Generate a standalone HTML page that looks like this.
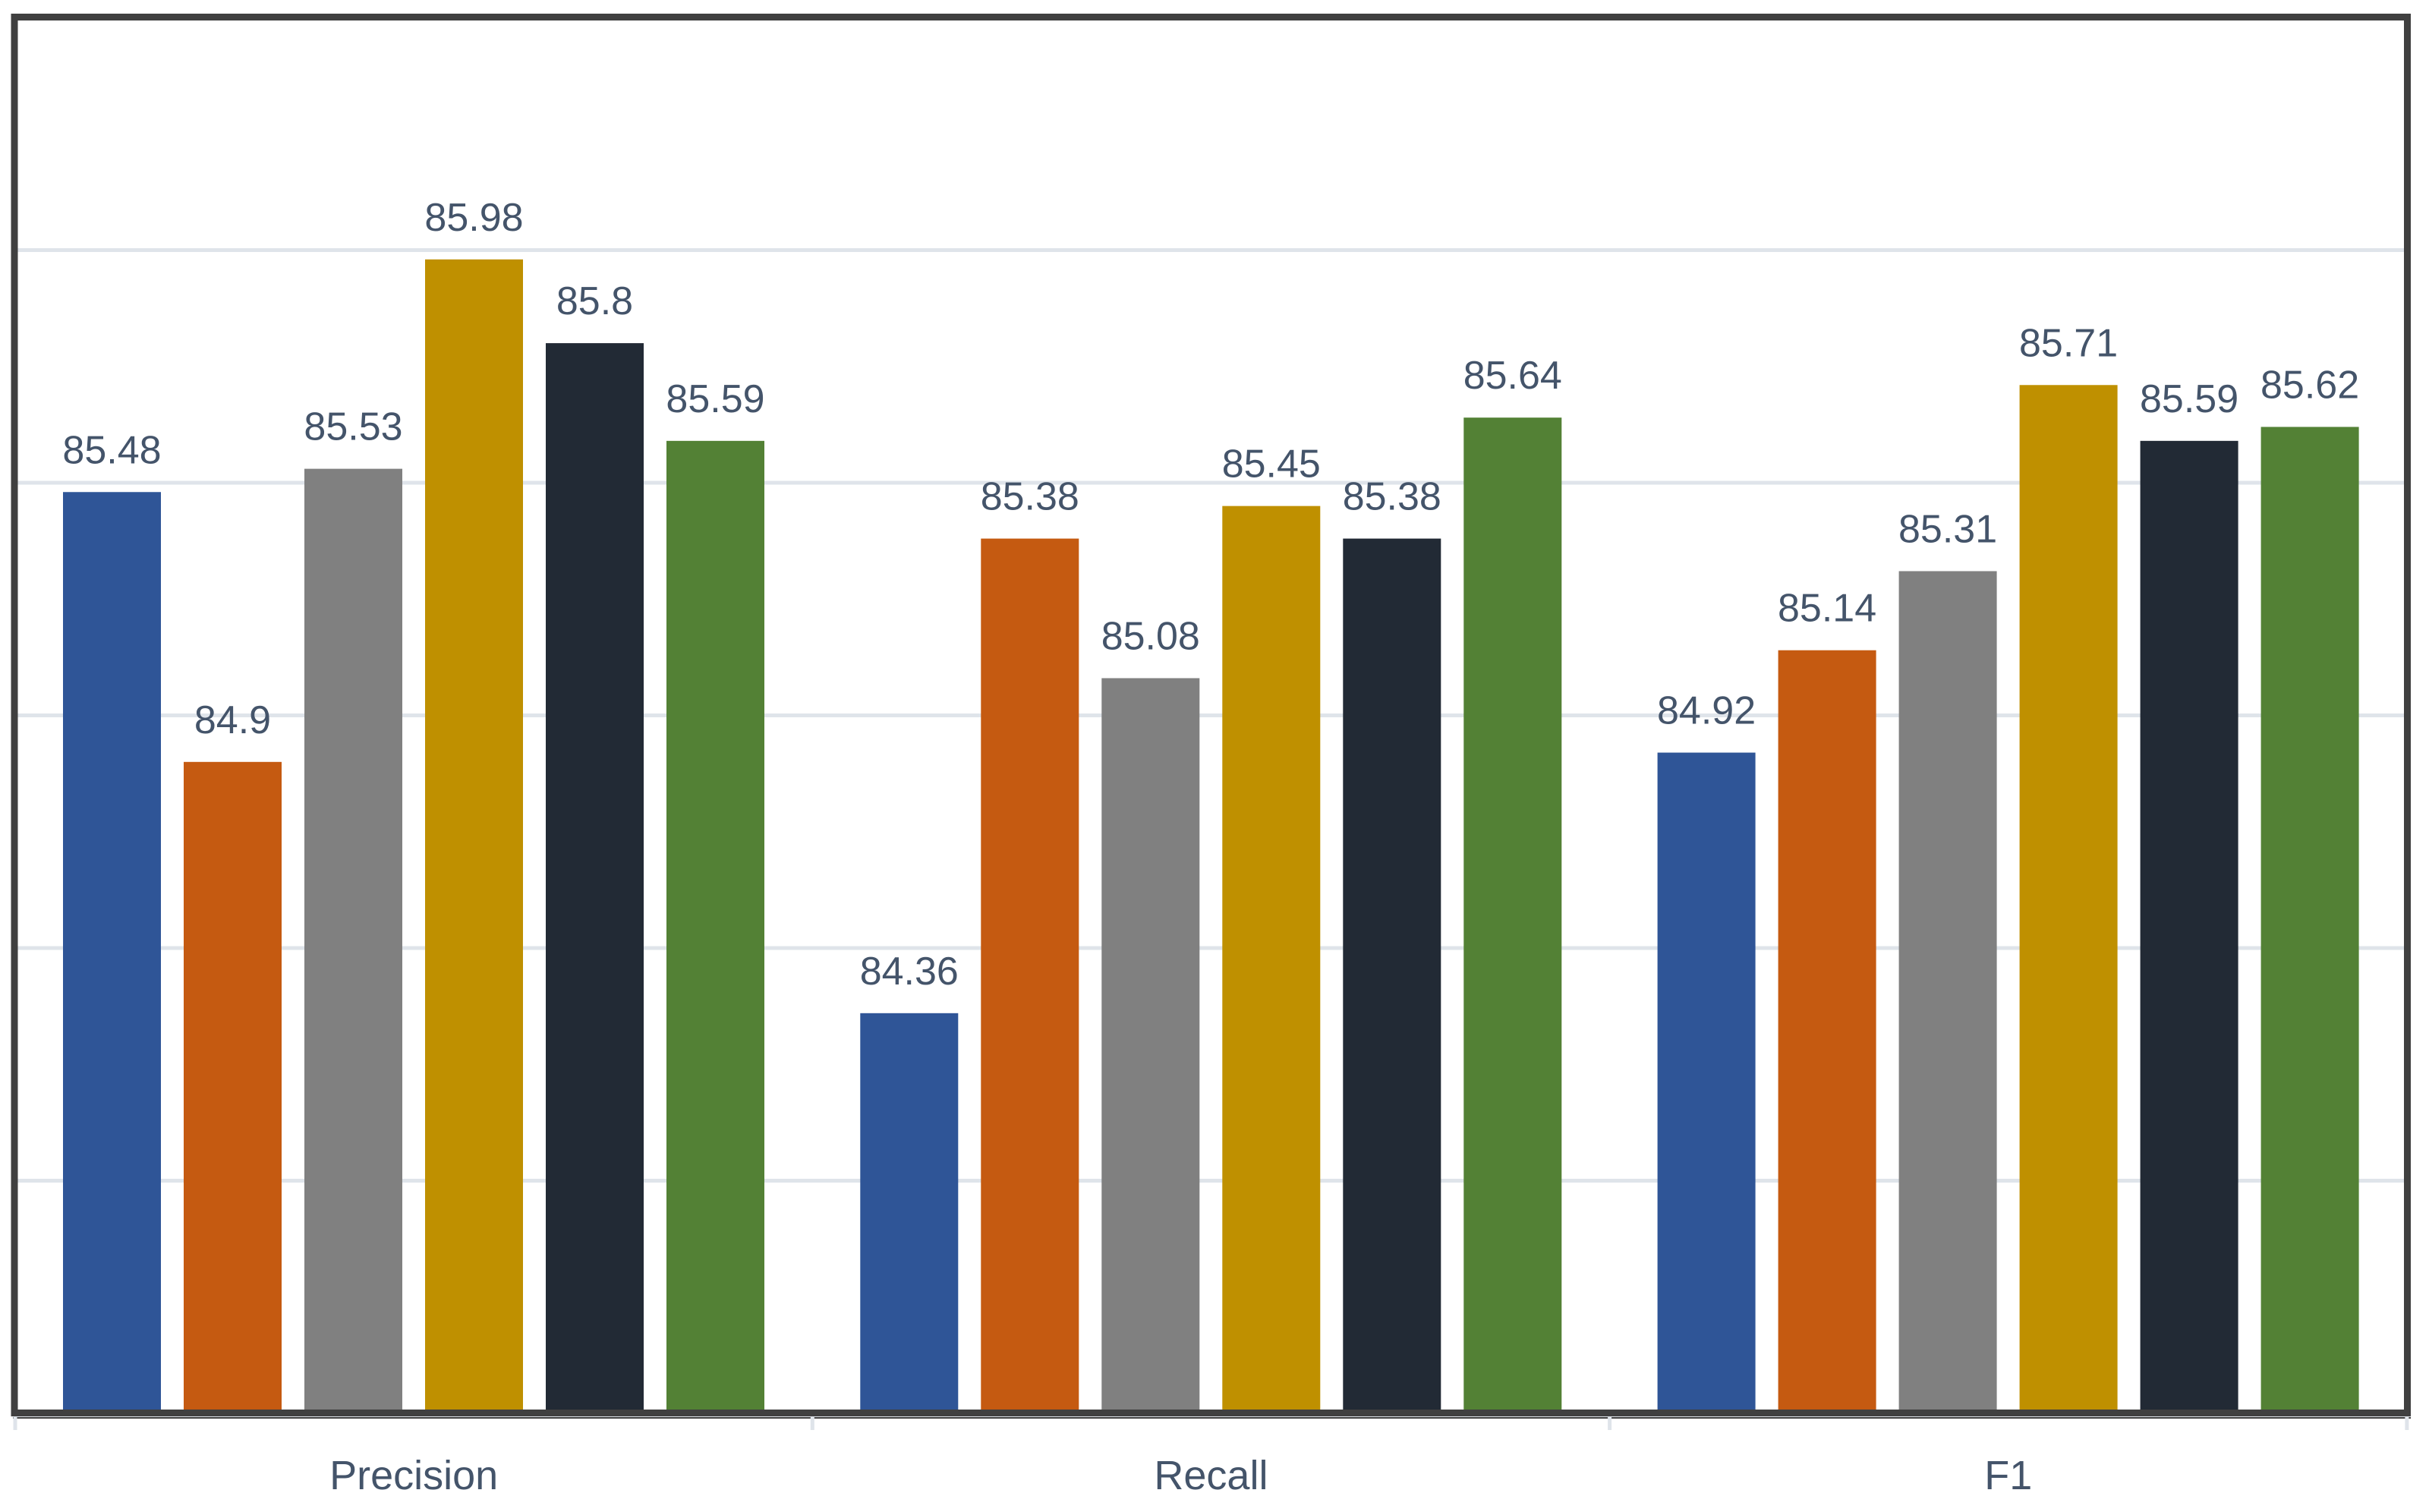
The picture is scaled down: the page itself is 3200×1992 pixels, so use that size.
<!DOCTYPE html>
<html><head><meta charset="utf-8">
<style>
html,body{margin:0;padding:0;background:#fff;}
svg{display:block;}
text{font-family:"Liberation Sans",sans-serif;fill:#44546a;}
</style></head>
<body>
<svg id="chart" width="3200" height="1992" viewBox="0 0 3200 1992" xmlns="http://www.w3.org/2000/svg">
<rect x="0" y="0" width="3200" height="1992" fill="#fff"/>
<g id="grid"></g>
<g id="bars"></g>
<g id="labels"></g>
<g id="axis"></g>
<rect x="19" y="22.5" width="3152.5" height="1839" fill="none" stroke="#404040" stroke-width="9"/>
</svg>
<script>
const categories = ["Precision", "Recall", "F1"];
const series1 = [85.48, 84.36, 84.92];
const series2 = [84.9, 85.38, 85.14];
const series3 = [85.53, 85.08, 85.31];
const series4 = [85.98, 85.45, 85.71];
const series5 = [85.8, 85.38, 85.59];
const series6 = [85.59, 85.64, 85.62];
const seriesList = [series1, series2, series3, series4, series5, series6];
const colors = ["#2f5597", "#c55a11", "#808080", "#bf9000", "#222a35", "#538135"];
const gridValues = [84, 84.5, 85, 85.5, 86];
const yMin = 83.5;

const NS = "http://www.w3.org/2000/svg";
const plotLeft = 20, catW = 1050.3, axisY = 1862, pxPerUnit = 613;
const barW = 129, barStep = 159, barOffset = 63;
function yScale(v){ return axisY - (v - yMin) * pxPerUnit; }
function xBar(c, s){ return plotLeft + c * catW + barOffset + s * barStep; }
function mk(tag, attrs, parent){
  const e = document.createElementNS(NS, tag);
  for (const k in attrs) e.setAttribute(k, attrs[k]);
  parent.appendChild(e);
  return e;
}
const gGrid = document.getElementById('grid');
const gBars = document.getElementById('bars');
const gLabels = document.getElementById('labels');
const gAxis = document.getElementById('axis');

gridValues.forEach(v => {
  const l = mk('line', {x1: 23, x2: 3167, y1: yScale(v), y2: yScale(v), stroke: '#dfe4ea', 'stroke-width': 5}, gGrid);
  
  
});

seriesList.forEach((vals, s) => {
  vals.forEach((v, c) => {
    const x = xBar(c, s), y = yScale(v);
    const r = mk('rect', {x: x, y: y, width: barW, height: axisY - y, fill: colors[s]}, gBars);
    
    
    const t = mk('text', {x: x + barW / 2, y: y - 38, 'text-anchor': 'middle', 'font-size': 52}, gLabels);
    t.textContent = String(v);
    
    
  });
});

const ax = mk('line', {x1: 17, x2: 3176, y1: 1864.5, y2: 1864.5, stroke: '#dfe4ea', 'stroke-width': 5}, gAxis);


const ax2 = mk('line', {x1: 17, x2: 3176, y1: 1868, y2: 1868, stroke: '#404040', 'stroke-width': 2}, gAxis);


for (let i = 0; i <= categories.length; i++) {
  const x = plotLeft + i * catW;
  const tk = mk('line', {x1: x, x2: x, y1: 1862, y2: 1884, stroke: '#dfe4ea', 'stroke-width': 5}, gAxis);
  
  
}
categories.forEach((c, i) => {
  const t = mk('text', {x: plotLeft + (i + 0.5) * catW, y: 1962, 'text-anchor': 'middle', 'font-size': 54}, gAxis);
  t.textContent = c;
  
  
});
</script>
</body></html>
